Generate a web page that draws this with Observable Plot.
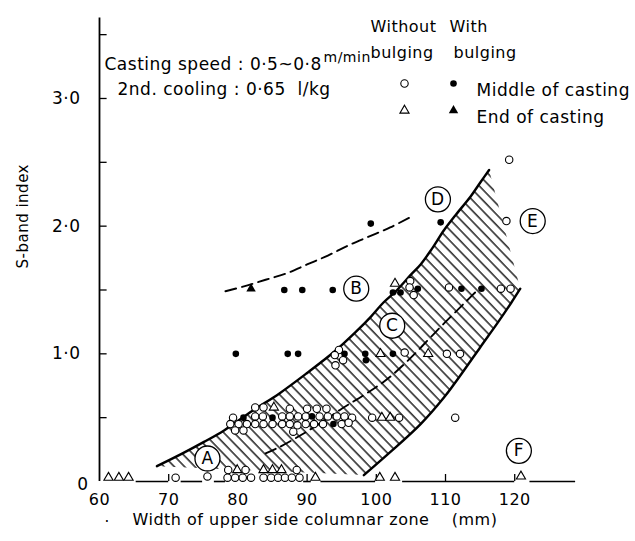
<!DOCTYPE html>
<html>
<head>
<meta charset="utf-8">
<script src="https://cdn.jsdelivr.net/npm/d3@7"></script>
<script src="https://cdn.jsdelivr.net/npm/@observablehq/plot@0.6"></script>
<style>
  body { margin: 0; background: #fff; }
  #chart svg { display: block; }
</style>
</head>
<body>
<div id="chart"></div>
<script>
// [width of upper side columnar zone (mm), S-band index]
const withoutBulgingMiddle = [
  [119.2, 2.52], [118.8, 2.04],
  [104.9, 1.57], [104.8, 1.52], [105.4, 1.46], [110.5, 1.52], [118.0, 1.51], [119.4, 1.51],
  [94.6, 1.03], [94.0, 0.99], [95.2, 0.95], [94.1, 0.91], [104.1, 1.01], [110.2, 1.0], [112.1, 1.0],
  [82.5, 0.58], [83.7, 0.58], [87.5, 0.57], [90.0, 0.57], [91.4, 0.57], [92.8, 0.57],
  [79.3, 0.5], [82.5, 0.51], [83.6, 0.51], [86.4, 0.51], [87.5, 0.51], [88.7, 0.51], [89.8, 0.51],
  [91.8, 0.51], [93.0, 0.51], [94.3, 0.51], [95.4, 0.51], [96.5, 0.5], [99.4, 0.5], [103.3, 0.5],
  [78.9, 0.45], [80.1, 0.45], [81.3, 0.45], [82.5, 0.45], [83.7, 0.45], [85.0, 0.45], [86.4, 0.45],
  [87.5, 0.45], [88.6, 0.44], [89.8, 0.45], [91.0, 0.45], [92.3, 0.45], [95.0, 0.45], [96.0, 0.46],
  [79.6, 0.4], [80.8, 0.4], [88.0, 0.39],
  [111.4, 0.5],
  [71.0, 0.03], [75.6, 0.04], [78.6, 0.09], [81.1, 0.09], [88.5, 0.09],
  [78.5, 0.03], [79.6, 0.03], [80.7, 0.03], [81.9, 0.03], [83.7, 0.03], [84.8, 0.03],
  [85.8, 0.03], [86.8, 0.03], [87.8, 0.03], [88.9, 0.03]
];
const withBulgingMiddle = [
  [99.2, 2.02], [109.3, 2.03],
  [86.7, 1.5], [89.3, 1.5], [93.7, 1.5], [102.4, 1.48], [103.5, 1.48], [106.0, 1.51], [112.3, 1.51], [115.2, 1.51],
  [79.7, 1.0], [87.2, 1.0], [88.7, 1.0], [95.4, 1.0], [98.4, 1.0], [98.5, 0.95], [102.4, 1.0],
  [80.8, 0.5], [85.0, 0.5], [90.7, 0.51], [93.8, 0.45]
];
const withoutBulgingEnd = [
  [102.7, 1.55], [100.6, 1.0], [107.5, 1.0], [100.8, 0.5], [102.0, 0.5], [85.2, 0.58],
  [61.3, 0.03], [62.8, 0.03], [64.2, 0.03], [79.9, 0.09], [83.7, 0.09], [85.0, 0.09], [86.3, 0.09],
  [91.2, 0.03], [100.5, 0.03], [102.7, 0.03], [120.9, 0.04]
];
const withBulgingEnd = [
  [81.9, 1.51]
];

// Edges of the hatched band
const bandUpperEdge = [
  [68.3, 0.12], [72, 0.22], [75.1, 0.31], [78, 0.4], [82, 0.55], [86, 0.69], [90, 0.85],
  [94, 1.02], [97, 1.17], [99.2, 1.29], [101, 1.4], [103, 1.5], [105, 1.62], [106.4, 1.7],
  [108, 1.82], [109.8, 1.97], [111.5, 2.09], [113.6, 2.23], [115, 2.34], [116.3, 2.44]
];
const bandLowerEdge = [
  [98.2, 0.05], [102, 0.23], [106.4, 0.45], [109.8, 0.66], [112.4, 0.85], [115, 1.05],
  [117.5, 1.24], [119.5, 1.4], [120.8, 1.51]
];
// Dashed trend curves
const bulgingCurve = [
  [78.2, 1.49], [81, 1.53], [84, 1.58], [87, 1.63], [90, 1.7], [93, 1.77], [96, 1.85],
  [99, 1.92], [102, 1.99], [104.9, 2.07]
];
const bandCentreCurve = [
  [84, 0.22], [86, 0.27], [89, 0.36], [92, 0.46], [95, 0.57], [98, 0.67], [100, 0.74],
  [102, 0.82], [105, 0.97], [107.5, 1.11], [110, 1.25], [112.6, 1.39], [115, 1.52]
];

// Region labels
const regionLabels = ["A", "B", "C", "D", "E", "F"];
const regionX = [75.6, 97.1, 102.3, 108.9, 122.6, 120.6];
const regionY = [0.18, 1.51, 1.22, 2.21, 2.04, 0.24];

// Axes
const xTickLabels = [60, 70, 80, 90, 100, 110, 120];
const xTickMarks = [70, 90, 100, 110, 120];
const yTickMarks = [0.5, 1, 1.5, 2, 2.5, 3, 3.5];
const yTickLabels = [1, 2, 3];
const baselineSegments = [
  [65.3, 70.0], [71.8, 74.9], [76.6, 78.2], [89.5, 90.6], [92.0, 99.9], [103.8, 120.0], [122.2, 128.8]
];

const rows = (pairs) => pairs.map(([x, y]) => ({x, y}));
const regions = regionLabels.map((label, i) => ({label, x: regionX[i], y: regionY[i]}));
const bandOutline = rows([...bandUpperEdge, ...bandLowerEdge.slice().reverse()]);
const fmt = (v) => v.toFixed(1).replace(".", "\u00b7");

const font = "DejaVu Sans, sans-serif";

const chart = Plot.plot({
  width: 635,
  height: 541,
  marginLeft: 99,
  marginRight: 58.5,
  marginTop: 15,
  marginBottom: 60,
  x: {domain: [60, 129], axis: null},
  y: {domain: [0, 3.65], axis: null},
  style: {fontFamily: font, fontSize: "16px", color: "black", background: "white", letterSpacing: "0.5px"},
  marks: [
    // hatched band
    Plot.line(bandOutline, {x: "x", y: "y", fill: "url(#hatch)", stroke: "none"}),
    Plot.line(rows(bandUpperEdge), {x: "x", y: "y", stroke: "black", strokeWidth: 2.4, curve: "catmull-rom"}),
    Plot.line(rows(bandLowerEdge), {x: "x", y: "y", stroke: "black", strokeWidth: 2.4, curve: "catmull-rom"}),
    Plot.line(rows(bulgingCurve), {x: "x", y: "y", stroke: "black", strokeWidth: 1.9, strokeDasharray: "11,6", curve: "catmull-rom"}),
    Plot.line(rows(bandCentreCurve), {x: "x", y: "y", stroke: "black", strokeWidth: 1.9, strokeDasharray: "11,6", curve: "catmull-rom"}),

    // axes
    Plot.ruleX([60], {y1: 0, y2: 3.63, stroke: "black", strokeWidth: 1.8}),
    Plot.ruleY(baselineSegments, {y: 0, x1: (d) => d[0], x2: (d) => d[1], stroke: "black", strokeWidth: 1.6}),
    Plot.ruleY(yTickMarks, {x1: 60, x2: 61.1, stroke: "black", strokeWidth: 1.3}),
    Plot.ruleX(xTickMarks, {y1: 0, y2: 0.055, stroke: "black", strokeWidth: 1.3}),
    Plot.text(yTickLabels, {x: 60, y: (d) => d, text: fmt, textAnchor: "end", dx: -19, fontSize: 17}),
    Plot.text([0], {x: 60, y: 0, text: (d) => String(d), textAnchor: "end", dx: -11, dy: 3, fontSize: 17}),
    Plot.text(xTickLabels, {x: (d) => d, y: 0, text: (d) => String(d), dy: 18, fontSize: 16}),
    Plot.text(["S-band index"], {frameAnchor: "left", rotate: -90, dx: -76, dy: 20, fontSize: 15}),
    Plot.text(["\u00b7"], {frameAnchor: "bottom-left", dx: 5, dy: 45, fontSize: 15}),
    Plot.text(["Width of upper side columnar zone\u00a0\u00a0\u00a0 (mm)"], {frameAnchor: "bottom-left", textAnchor: "start", dx: 33, dy: 43, fontSize: 16}),

    // markers
    Plot.dot(rows(withoutBulgingMiddle), {x: "x", y: "y", r: 3.7, symbol: "circle", fill: "white", stroke: "black", strokeWidth: 1.1}),
    Plot.dot(rows(withoutBulgingEnd), {x: "x", y: "y", r: 3.4, symbol: "triangle", fill: "white", stroke: "black", strokeWidth: 1.1}),
    Plot.dot(rows(withBulgingMiddle), {x: "x", y: "y", r: 3.3, symbol: "circle", fill: "black", stroke: "none"}),
    Plot.dot(rows(withBulgingEnd), {x: "x", y: "y", r: 3.5, symbol: "triangle", fill: "black", stroke: "none"}),

    // circled region letters
    Plot.dot(regions, {x: "x", y: "y", r: 12.5, fill: "white", stroke: "black", strokeWidth: 1.3}),
    Plot.text(regions, {x: "x", y: "y", text: "label", fontSize: 17}),

    // casting conditions
    Plot.text(["Casting speed : 0\u00b75~0\u00b78"], {frameAnchor: "top-left", textAnchor: "start", dx: 5, dy: 42, fontSize: 17}),
    Plot.text(["m/min"], {frameAnchor: "top-left", textAnchor: "start", dx: 224, dy: 37, fontSize: 14}),
    Plot.text(["2nd. cooling : 0\u00b765\u00a0 l/kg"], {frameAnchor: "top-left", textAnchor: "start", dx: 18, dy: 67, fontSize: 17}),

    // key
    Plot.text(["Without"], {frameAnchor: "top-left", textAnchor: "start", dx: 271, dy: 5, fontSize: 16}),
    Plot.text(["With"], {frameAnchor: "top-left", textAnchor: "start", dx: 350, dy: 5, fontSize: 16}),
    Plot.text(["bulging"], {frameAnchor: "top-left", textAnchor: "start", dx: 271, dy: 31, fontSize: 16}),
    Plot.text(["bulging"], {frameAnchor: "top-left", textAnchor: "start", dx: 354, dy: 31, fontSize: 16}),
    Plot.dot([0], {frameAnchor: "top-left", dx: 305, dy: 68, r: 3.7, fill: "white", stroke: "black", strokeWidth: 1.1}),
    Plot.dot([0], {frameAnchor: "top-left", dx: 354, dy: 68, r: 3.3, fill: "black"}),
    Plot.dot([0], {frameAnchor: "top-left", dx: 305, dy: 95, r: 3.4, symbol: "triangle", fill: "white", stroke: "black", strokeWidth: 1.1}),
    Plot.dot([0], {frameAnchor: "top-left", dx: 354, dy: 95, r: 3.5, symbol: "triangle", fill: "black"}),
    Plot.text(["Middle of casting"], {frameAnchor: "top-left", textAnchor: "start", dx: 377, dy: 68, fontSize: 17}),
    Plot.text(["End of casting"], {frameAnchor: "top-left", textAnchor: "start", dx: 377, dy: 95, fontSize: 17})
  ]
});

// diagonal hatching used by the band fill
const ns = "http://www.w3.org/2000/svg";
const defs = document.createElementNS(ns, "defs");
defs.innerHTML = '<pattern id="hatch" patternUnits="userSpaceOnUse" width="7.4" height="7.4" patternTransform="rotate(-44)">' +
  '<line x1="1" y1="-1" x2="1" y2="9" stroke="black" stroke-width="1.3"/></pattern>';
chart.insertBefore(defs, chart.firstChild);

document.getElementById("chart").appendChild(chart);
</script>
</body>
</html>
